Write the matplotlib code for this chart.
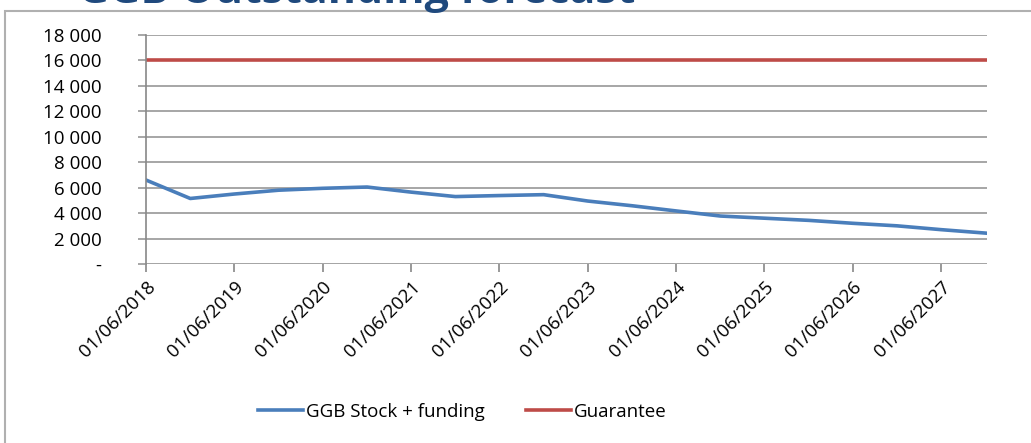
import matplotlib
matplotlib.use("Agg")
import matplotlib.pyplot as plt
from matplotlib.ticker import FuncFormatter, MultipleLocator
from matplotlib.patches import Rectangle
import datetime as dt

plt.rcParams['font.family'] = ['Open Sans', 'DejaVu Sans']

# semi-annual dates, June 2018 .. December 2027
dates = ["2018-06", "2018-12", "2019-06", "2019-12", "2020-06", "2020-12",
         "2021-06", "2021-12", "2022-06", "2022-12", "2023-06", "2023-12",
         "2024-06", "2024-12", "2025-06", "2025-12", "2026-06", "2026-12",
         "2027-06", "2027-12"]
ggb_stock = [6600, 5150, 5500, 5800, 5950, 6050,
             5650, 5300, 5380, 5450, 4950, 4580,
             4170, 3770, 3600, 3430, 3200, 3000,
             2700, 2420]
guarantee = [16000] * len(dates)
tick_years = list(range(2018, 2028))

x = [dt.datetime.strptime(d, "%Y-%m") for d in dates]
x[-1] = dt.datetime(2027, 12, 8)

fig = plt.figure(figsize=(10.31, 4.43), dpi=100)
ax = fig.add_axes([146/1031, 1-264/443, (987-146)/1031, (264-35)/443])

# outer chart frame
fig.patches.append(Rectangle((5/1031, -0.01), 1.02, 1-11/443 + 0.01, transform=fig.transFigure,
                             fill=False, edgecolor='#b0b0b0', linewidth=1.5))

# title is cut off at the top edge, as in the source slide
fig.text(357/1031, 1-3/443, "GGB Outstanding forecast", ha='center', va='baseline',
         fontsize=31, fontweight='bold', color='#1F497D')

ax.plot(x, ggb_stock, color='#4A7EBB', linewidth=2.6, label='GGB Stock + funding')
ax.plot(x, guarantee, color='#BE4B48', linewidth=2.6, label='Guarantee')

ax.set_ylim(0, 18000)
ax.set_xlim(x[0], x[-1])
ax.yaxis.set_major_locator(MultipleLocator(2000))
ax.yaxis.set_major_formatter(FuncFormatter(
    lambda v, p: '-' if v == 0 else f"{int(v):,}".replace(',', ' ')))
ax.grid(axis='y', color='#a6a6a6', linewidth=1.4)
ax.set_axisbelow(True)

ticks = [dt.datetime(y, 6, 1) for y in tick_years]
ax.set_xticks(ticks)
ax.set_xticklabels([t.strftime("%d/%m/%Y") for t in ticks], rotation=45,
                   ha='right', rotation_mode='anchor', fontsize=13.5)
ax.tick_params(axis='y', length=6, color='#a6a6a6', width=1.4, labelsize=13.5, pad=26)
ax.tick_params(axis='x', length=6, color='#888888', width=1.2, pad=4)

for s in ['top', 'right', 'bottom']:
    ax.spines[s].set_visible(False)
ax.spines['left'].set_color('#888888')
ax.spines['left'].set_linewidth(1.2)
ax.axhline(0, color='#a6a6a6', linewidth=1.4)

fig.legend(loc='center', bbox_to_anchor=(462/1031, 1-412/443), ncol=2, frameon=False,
           fontsize=13.5, handlelength=2.4, columnspacing=2.2, handletextpad=0.15)

fig.savefig("out.png", dpi=100)
